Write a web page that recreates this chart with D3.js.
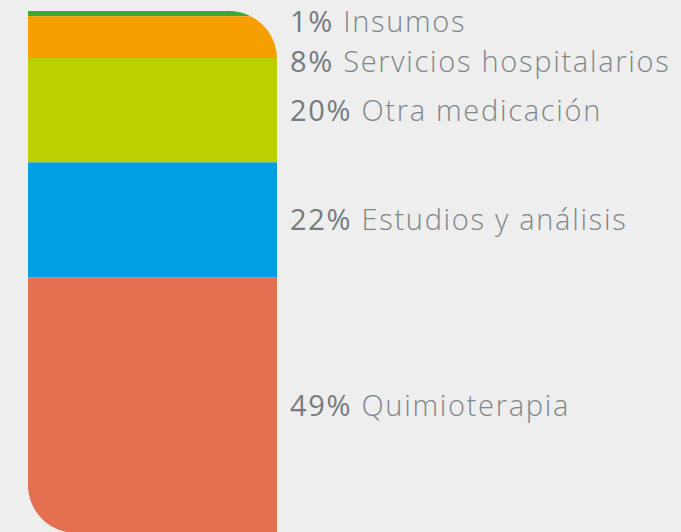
<!DOCTYPE html>
<html>
<head>
<meta charset="utf-8">
<script src="https://cdn.jsdelivr.net/npm/d3@7"></script>
<style>
  html, body { margin: 0; padding: 0; background: #eeeeee; }
  svg { display: block; }
</style>
</head>
<body>
<svg id="chart" width="681" height="532"></svg>
<script>
// Cost breakdown, top to bottom of the stacked bar
const categories = ["Insumos", "Servicios hospitalarios", "Otra medicación", "Estudios y análisis", "Quimioterapia"];
const shares = [1, 8, 20, 22, 49];
const colors = ["#3aaa35", "#f5a000", "#bccf00", "#009fe3", "#e57051"];

const W = 681, H = 532;
const bar = { x0: 28, x1: 277, top: 11, bottom: 533, r: 48 };

const svg = d3.select("#chart");

// cumulative starts for the stack
const starts = d3.cumsum([0, ...shares]).slice(0, shares.length);
const total = d3.sum(shares);

const y = d3.scaleLinear().domain([0, total]).range([bar.top, bar.bottom]);
const x = d3.scaleLinear().domain([0, 1]).range([bar.x0, bar.x1]);

// bar outline: square corners except top-right and bottom-left
const r = bar.r;
const outline = d3.path();
outline.moveTo(bar.x0, bar.top);
outline.lineTo(bar.x1 - r, bar.top);
outline.arcTo(bar.x1, bar.top, bar.x1, bar.top + r, r);
outline.lineTo(bar.x1, bar.bottom);
outline.lineTo(bar.x0 + r, bar.bottom);
outline.arcTo(bar.x0, bar.bottom, bar.x0, bar.bottom - r, r);
outline.closePath();

svg.append("clipPath").attr("id", "barClip")
  .append("path").attr("d", outline.toString());

const g = svg.append("g").attr("clip-path", "url(#barClip)");

g.selectAll("rect")
  .data(shares)
  .join("rect")
  .attr("x", x(0))
  .attr("width", x(1) - x(0))
  .attr("y", (d, i) => y(starts[i]))
  .attr("height", d => y(d) - y(0))
  .attr("fill", (d, i) => colors[i]);

// label positions: segment centres, pushed down to keep lines apart
const minGap = 40;
const labelY = [];
shares.forEach((d, i) => {
  const c = y(starts[i] + d / 2);
  const lower = i === 0 ? 22 : labelY[i - 1] + minGap;
  labelY.push(Math.max(c, lower));
});

const labels = svg.append("g")
  .attr("font-family", "'Open Sans', Lato, sans-serif")
  .attr("font-size", 29)
  .attr("letter-spacing", 1.7);

const t = labels.selectAll("text")
  .data(shares)
  .join("text")
  .attr("x", 290)
  .attr("y", (d, i) => labelY[i])
  .attr("dy", "0.36em")
  .attr("fill", "#7f8789");

t.append("tspan")
  .attr("font-weight", 500)
  .attr("fill", "#757c7f")
  .text(d => d + "%");

t.append("tspan")
  .attr("font-weight", 300)
  .text((d, i) => " " + categories[i]);
</script>
</body>
</html>
